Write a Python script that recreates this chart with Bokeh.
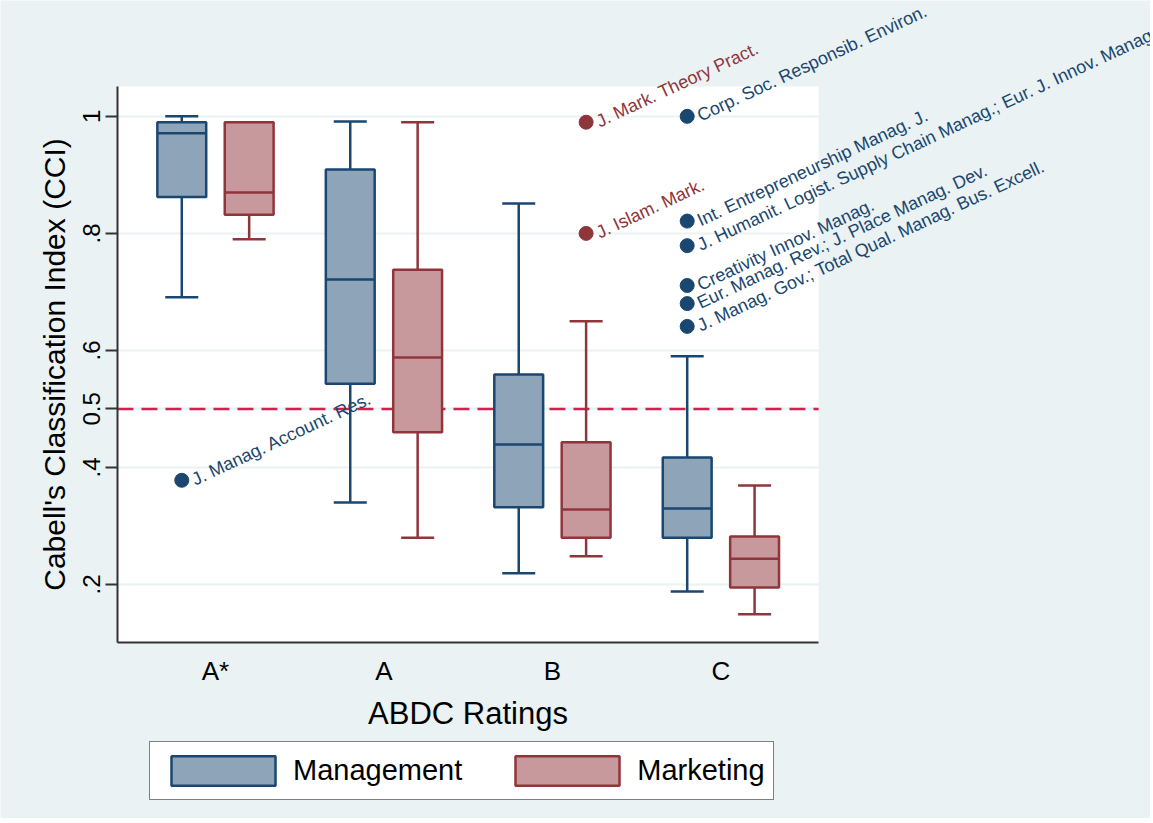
from bokeh.plotting import figure
from bokeh.models import (ColumnDataSource, FixedTicker, BoxAnnotation, Legend, LegendItem)
from bokeh.core.properties import value
from bokeh.embed import file_html
from bokeh.resources import INLINE

# ---------------- data ----------------
categories = ["A*", "A", "B", "C"]
groups = ["Management", "Marketing"]

# box statistics per category (A*, A, B, C)
mgmt_lo = [0.691, 0.340, 0.219, 0.188]
mgmt_q1 = [0.862, 0.543, 0.332, 0.280]
mgmt_med = [0.971, 0.721, 0.439, 0.330]
mgmt_q3 = [0.990, 0.909, 0.559, 0.417]
mgmt_hi = [1.000, 0.991, 0.851, 0.590]

mkt_lo = [0.790, 0.280, 0.248, 0.149]
mkt_q1 = [0.832, 0.460, 0.280, 0.195]
mkt_med = [0.870, 0.588, 0.328, 0.244]
mkt_q3 = [0.990, 0.738, 0.443, 0.282]
mkt_hi = [0.990, 0.990, 0.650, 0.369]

# outliers
out_mgmt_cat = ["A*", "C", "C", "C", "C", "C", "C"]
out_mgmt_val = [0.378, 1.000, 0.821, 0.779, 0.711, 0.680, 0.641]
out_mgmt_lab = ["J. Manag. Account. Res.",
                "Corp. Soc. Responsib. Environ.",
                "Int. Entrepreneurship Manag. J.",
                "J. Humanit. Logist. Supply Chain Manag.; Eur. J. Innov. Manag",
                "Creativity Innov. Manag.",
                "Eur. Manag. Rev.; J. Place Manag. Dev.",
                "J. Manag. Gov.; Total Qual. Manag. Bus. Excell."]
out_mkt_cat = ["B", "B"]
out_mkt_val = [0.990, 0.800]
out_mkt_lab = ["J. Mark. Theory Pract.", "J. Islam. Mark."]

y_ticks = [0.2, 0.4, 0.5, 0.6, 0.8, 1.0]
y_tick_labels = [".2", ".4", "0.5", ".6", ".8", "1"]
threshold = 0.5

# ---------------- style / layout ----------------
FONT = "Liberation Sans"
BLUE, BLUE_FILL = "#1a476f", "#8ea4b9"
RED, RED_FILL = "#90353b", "#c8999c"
BG = "#eaf2f3"
OFFSET = 0.2
BOX_W = 0.29
CAP_W = 0.196
# plot region (data units) inside a frame that covers the whole canvas,
# so that axis texts, labels and legend may lie outside the plot region
PX0, PX1 = 0.418, 4.58
PY0, PY1 = 0.101, 1.051
FX0, FX1 = -0.276, 6.55
FY0, FY1 = -0.2, 1.198

p = figure(frame_width=1150, frame_height=818,
           x_range=(FX0, FX1), y_range=(FY0, FY1),
           output_backend="svg", toolbar_location=None,
           min_border_left=0, min_border_right=0,
           min_border_top=0, min_border_bottom=0)
p.background_fill_color = BG
p.border_fill_color = BG
p.outline_line_color = None

# white plot region
p.add_layout(BoxAnnotation(left=PX0, right=PX1, bottom=PY0, top=PY1,
                           fill_color="white", fill_alpha=1.0, line_color=None,
                           level="image"))

pos = {c: i + 1 for i, c in enumerate(categories)}

# threshold line (drawn first so boxes sit on top)
p.segment(x0=[PX0], x1=[PX1], y0=[threshold], y1=[threshold],
          line_color="#d21f4c", line_dash="16 8", line_width=2.5)

legend_items = []
for name, sign, lc, fc, lo, q1, med, q3, hi in [
        ("Management", -1, BLUE, BLUE_FILL, mgmt_lo, mgmt_q1, mgmt_med, mgmt_q3, mgmt_hi),
        ("Marketing", 1, RED, RED_FILL, mkt_lo, mkt_q1, mkt_med, mkt_q3, mkt_hi)]:
    xs = [pos[c] + sign * OFFSET for c in categories]
    src = ColumnDataSource(dict(x=xs, lo=lo, q1=q1, med=med, q3=q3, hi=hi,
                                cl=[x - CAP_W / 2 for x in xs],
                                cr=[x + CAP_W / 2 for x in xs],
                                bl=[x - BOX_W / 2 for x in xs],
                                br=[x + BOX_W / 2 for x in xs]))
    p.segment(x0="x", y0="q3", x1="x", y1="hi", source=src, line_color=lc, line_width=2.5)
    p.segment(x0="x", y0="q1", x1="x", y1="lo", source=src, line_color=lc, line_width=2.5)
    p.segment(x0="cl", y0="hi", x1="cr", y1="hi", source=src, line_color=lc, line_width=2.5)
    p.segment(x0="cl", y0="lo", x1="cr", y1="lo", source=src, line_color=lc, line_width=2.5)
    r = p.vbar(x="x", width=BOX_W, bottom="q1", top="q3", source=src,
               fill_color=fc, line_color=lc, line_width=2.5)
    p.segment(x0="bl", y0="med", x1="br", y1="med", source=src, line_color=lc, line_width=2.5)
    legend_items.append(LegendItem(label=name, renderers=[r]))

# outliers with labels
for sign, color, cats, vals, labs in [(-1, BLUE, out_mgmt_cat, out_mgmt_val, out_mgmt_lab),
                                      (1, RED, out_mkt_cat, out_mkt_val, out_mkt_lab)]:
    xs = [pos[c] + sign * OFFSET for c in cats]
    s = ColumnDataSource(dict(x=xs, y=vals, t=labs))
    p.scatter(x="x", y="y", source=s, size=14, fill_color=color, line_color=color)
    p.text(x="x", y="y", text="t", source=s, x_offset=11, y_offset=0,
           angle=25, angle_units="deg", text_color=color,
           text_font=value(FONT), text_font_size="18px", text_baseline="middle")

# axes
p.xgrid.visible = False
p.ygrid.grid_line_color = BG
p.ygrid.grid_line_width = 2
p.ygrid.ticker = FixedTicker(ticks=y_ticks)

p.yaxis.ticker = FixedTicker(ticks=y_ticks)
p.yaxis.major_label_overrides = {t: l for t, l in zip(y_ticks, y_tick_labels)}
p.yaxis.major_label_orientation = "vertical"
p.yaxis.axis_label = "Cabell's Classification Index (CCI)"
p.yaxis.bounds = (PY0, PY1)
p.yaxis.fixed_location = PX0
p.xaxis.ticker = FixedTicker(ticks=[pos[c] for c in categories])
p.xaxis.major_label_overrides = {pos[c]: c for c in categories}
p.xaxis.axis_label = "ABDC Ratings"
p.xaxis.bounds = (PX0, PX1)
p.xaxis.fixed_location = PY0

for ax in (p.xaxis, p.yaxis):
    ax.axis_line_color = "#333333"
    ax.axis_line_width = 2
    ax.major_tick_line_color = "#333333"
    ax.major_tick_line_width = 2
    ax.minor_tick_line_color = None
    ax.major_tick_in = 0
    ax.major_label_text_font = FONT
    ax.axis_label_text_font = FONT
    ax.axis_label_text_font_style = "normal"
    ax.major_label_text_color = "black"
    ax.axis_label_text_color = "black"
p.yaxis.major_tick_out = 12
p.yaxis.major_label_text_font_size = "24px"
p.yaxis.axis_label_text_font_size = "30px"
p.yaxis.major_label_standoff = 5
p.yaxis.axis_label_standoff = 10
p.xaxis.major_tick_out = 0
p.xaxis.major_tick_line_color = None
p.xaxis.major_label_text_font_size = "26px"
p.xaxis.axis_label_text_font_size = "31px"
p.xaxis.major_label_standoff = 14
p.xaxis.axis_label_standoff = 6

legend = Legend(items=legend_items, orientation="horizontal", location=(149, 18),
                glyph_width=130, glyph_height=37, label_standoff=5, spacing=40,
                padding=8, margin=0, label_text_font=FONT, label_text_font_size="29px",
                label_text_color="black", label_height=41,
                border_line_color="black", border_line_width=1.5,
                background_fill_color="white", background_fill_alpha=1.0)
p.add_layout(legend, "center")

open("out.html", "w").write(file_html(p, INLINE))
